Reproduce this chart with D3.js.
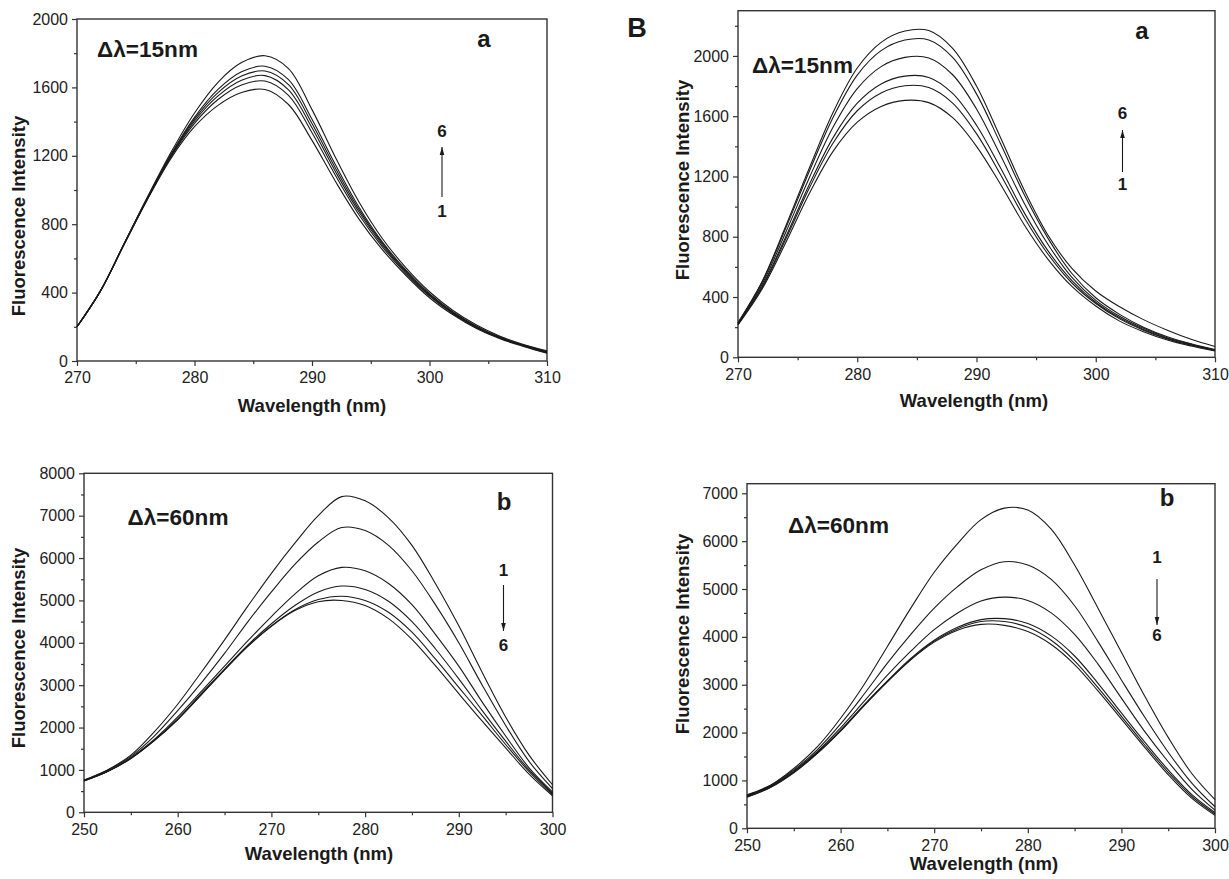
<!DOCTYPE html>
<html>
<head>
<meta charset="utf-8">
<script src="https://cdn.jsdelivr.net/npm/d3@7"></script>
<style>
  body { margin: 0; background: #fff; }
  svg { display: block; font-family: "Liberation Sans", Arial, sans-serif; }
  .tick text { font-size: 16px; fill: #222; }
  .tick line { stroke: #333; stroke-width: 1.2; }
  .domain { display: none; }
  .spectrum { fill: none; stroke: #1a1a1a; stroke-width: 1.1; }
  .title { font-weight: bold; font-size: 18.5px; fill: #1a1a1a; }
  .note { font-weight: bold; fill: #1a1a1a; }
</style>
</head>
<body>
<svg id="fig" width="1229" height="879"></svg>
<script>
// wavelengths (nm)
var wlTop = [270, 272, 274, 276, 278, 280, 282, 284, 286, 288, 290,
             292, 294, 296, 298, 300, 302, 304, 306, 308, 310];
var wlBottom = [250, 252.5, 255, 257.5, 260, 262.5, 265, 267.5, 270, 272.5, 275,
                277.5, 280, 282.5, 285, 287.5, 290, 292.5, 295, 297.5, 300];

// panel A-a, delta lambda = 15 nm, curves 1..6
var spectraAa = [
  [200, 410, 680, 945, 1185, 1370, 1495, 1570, 1588, 1500, 1290, 1050, 830, 650, 500, 370, 270, 190, 130, 85, 45],
  [200, 410, 681, 949, 1194, 1390, 1529, 1614, 1637, 1553, 1335, 1085, 855, 666, 511, 379, 276, 195, 134, 88, 49],
  [200, 410, 682, 951, 1199, 1403, 1550, 1642, 1669, 1586, 1364, 1107, 871, 677, 518, 384, 280, 198, 136, 90, 51],
  [200, 410, 683, 953, 1204, 1414, 1569, 1666, 1696, 1616, 1389, 1127, 885, 686, 525, 389, 284, 201, 138, 92, 53],
  [200, 410, 684, 955, 1209, 1425, 1588, 1691, 1724, 1645, 1414, 1147, 899, 695, 531, 394, 287, 204, 140, 93, 55],
  [200, 410, 686, 960, 1220, 1450, 1630, 1745, 1785, 1710, 1470, 1190, 930, 715, 545, 405, 295, 210, 145, 97, 60]
];

// panel B-a, delta lambda = 15 nm
var spectraBa = [
  [215, 450, 760, 1090, 1370, 1560, 1665, 1705, 1690, 1590, 1400, 1150, 880, 650, 470, 340, 240, 170, 115, 75, 42],
  [218, 460, 783, 1126, 1425, 1636, 1754, 1802, 1790, 1687, 1484, 1215, 928, 684, 493, 357, 255, 180, 122, 80, 45],
  [220, 468, 798, 1150, 1461, 1686, 1814, 1866, 1857, 1751, 1540, 1259, 960, 706, 509, 365, 262, 185, 125, 82, 46],
  [224, 481, 828, 1195, 1531, 1783, 1929, 1990, 1986, 1875, 1648, 1342, 1023, 749, 530, 378, 272, 192, 130, 86, 48],
  [228, 494, 856, 1238, 1596, 1873, 2035, 2105, 2106, 1990, 1748, 1420, 1080, 789, 556, 395, 285, 200, 137, 90, 51],
  [230, 500, 870, 1260, 1630, 1920, 2090, 2165, 2168, 2050, 1800, 1460, 1110, 810, 590, 440, 335, 250, 180, 120, 72]
];

// panel A-b, delta lambda = 60 nm
var spectraAb = [
  [760, 1000, 1350, 1900, 2550, 3300, 4070, 4870, 5640, 6350, 7000, 7450, 7350, 6950, 6300, 5400, 4400, 3300, 2250, 1350, 650],
  [755, 990, 1320, 1800, 2400, 3050, 3750, 4500, 5200, 5850, 6380, 6720, 6650, 6300, 5700, 4900, 4000, 3000, 2050, 1200, 560],
  [750, 970, 1290, 1720, 2250, 2850, 3450, 4050, 4620, 5150, 5580, 5780, 5700, 5400, 4900, 4200, 3450, 2600, 1800, 1050, 480],
  [745, 965, 1280, 1700, 2200, 2800, 3380, 3950, 4450, 4880, 5200, 5340, 5260, 4980, 4500, 3860, 3150, 2400, 1680, 1000, 450],
  [740, 960, 1270, 1690, 2190, 2770, 3360, 3920, 4400, 4780, 5020, 5100, 5000, 4720, 4250, 3620, 2950, 2280, 1600, 960, 420],
  [740, 960, 1270, 1690, 2190, 2770, 3360, 3920, 4390, 4760, 4970, 5000, 4880, 4570, 4080, 3460, 2800, 2150, 1520, 900, 390]
];

// panel B-b, delta lambda = 60 nm
var spectraBb = [
  [700, 900, 1250, 1700, 2300, 3000, 3800, 4600, 5350, 5950, 6450, 6690, 6650, 6250, 5500, 4600, 3680, 2760, 1900, 1150, 600],
  [690, 890, 1220, 1640, 2180, 2800, 3450, 4050, 4600, 5050, 5400, 5570, 5500, 5200, 4650, 3900, 3100, 2320, 1590, 950, 450],
  [680, 880, 1200, 1600, 2100, 2650, 3200, 3700, 4150, 4500, 4750, 4830, 4760, 4500, 4050, 3430, 2720, 2020, 1390, 820, 380],
  [670, 870, 1180, 1580, 2050, 2580, 3080, 3550, 3930, 4200, 4360, 4380, 4280, 4020, 3600, 3030, 2410, 1800, 1220, 710, 330],
  [660, 860, 1170, 1570, 2040, 2570, 3070, 3530, 3910, 4170, 4320, 4320, 4200, 3930, 3500, 2940, 2340, 1740, 1170, 670, 300],
  [650, 850, 1160, 1560, 2030, 2560, 3060, 3520, 3890, 4140, 4260, 4240, 4110, 3840, 3420, 2870, 2280, 1690, 1120, 630, 270]
];

var xTicksTop = [270, 280, 290, 300, 310];
var xTicksBottom = [250, 260, 270, 280, 290, 300];
var yTicks2000 = [0, 400, 800, 1200, 1600, 2000];
var yTicks8000 = [0, 1000, 2000, 3000, 4000, 5000, 6000, 7000, 8000];
var yTicks7000 = [0, 1000, 2000, 3000, 4000, 5000, 6000, 7000];

var svg = d3.select("#fig");

svg.append("defs").append("marker")
    .attr("id", "head")
    .attr("viewBox", "0 -3 8 6")
    .attr("refX", 8)
    .attr("markerWidth", 8)
    .attr("markerHeight", 6)
    .attr("markerUnits", "userSpaceOnUse")
    .attr("orient", "auto")
  .append("path")
    .attr("d", "M0,-2.3L8,0L0,2.3Z")
    .attr("fill", "#1a1a1a");

var panels = [
  { wl: wlTop, spectra: spectraAa, xDomain: [270, 310], yDomain: [0, 2000],
    xTicks: xTicksTop, yTicks: yTicks2000, xStep: 5, yStep: 200,
    left: 77, right: 547, top: 19, bottom: 361,
    yTitle: [18, 216], xTitle: [312, 405], delta: "Δλ=15nm", deltaPos: [97, 49],
    letter: "a", letterPos: [484, 38], arrow: { x: 442, from: 197, to: 147, top: "6", topY: 131, bottom: "1", bottomY: 211 } },
  { wl: wlTop, spectra: spectraBa, xDomain: [270, 310], yDomain: [0, 2300],
    xTicks: xTicksTop, yTicks: yTicks2000, xStep: 5, yStep: 200,
    left: 738, right: 1215, top: 10.7, bottom: 357.3,
    yTitle: [682, 180], xTitle: [974, 400], delta: "Δλ=15nm", deltaPos: [752, 65],
    letter: "a", letterPos: [1142, 30], arrow: { x: 1122.5, from: 172, to: 130, top: "6", topY: 113, bottom: "1", bottomY: 184 } },
  { wl: wlBottom, spectra: spectraAb, xDomain: [250, 300], yDomain: [0, 8000],
    xTicks: xTicksBottom, yTicks: yTicks8000, xStep: 5, yStep: 500,
    left: 84, right: 552.5, top: 473.3, bottom: 812.3,
    yTitle: [18, 648], xTitle: [319, 853], delta: "Δλ=60nm", deltaPos: [127.5, 517],
    letter: "b", letterPos: [504, 501], arrow: { x: 503.5, from: 585, to: 631, top: "1", topY: 570, bottom: "6", bottomY: 645 } },
  { wl: wlBottom, spectra: spectraBb, xDomain: [250, 300], yDomain: [0, 7200],
    xTicks: xTicksBottom, yTicks: yTicks7000, xStep: 5, yStep: 500,
    left: 747, right: 1215, top: 483.7, bottom: 828.3,
    yTitle: [682, 634], xTitle: [984, 863], delta: "Δλ=60nm", deltaPos: [788, 525],
    letter: "b", letterPos: [1167, 497], arrow: { x: 1157, from: 579, to: 625, top: "1", topY: 557, bottom: "6", bottomY: 635 } }
];

var drawPanel = function(p) {
    var g = svg.append("g");
    var x = d3.scaleLinear().domain(p.xDomain).range([p.left, p.right]);
    var y = d3.scaleLinear().domain(p.yDomain).range([p.bottom, p.top]);

    // minor ticks between the labelled ones
    var minorX = d3.range(p.xDomain[0], p.xDomain[1] + 0.01, p.xStep)
        .filter(function (v) { return p.xTicks.indexOf(v) < 0; });
    var minorY = d3.range(0, p.yDomain[1] + 0.01, p.yStep)
        .filter(function (v) { return p.yTicks.indexOf(v) < 0; });

    g.append("g")
        .attr("transform", "translate(0," + p.bottom + ")")
        .call(d3.axisBottom(x).tickValues(minorX).tickSize(3).tickFormat(""));
    g.append("g")
        .attr("transform", "translate(" + p.left + ",0)")
        .call(d3.axisLeft(y).tickValues(minorY).tickSize(3).tickFormat(""));

    g.append("g")
        .attr("transform", "translate(0," + p.bottom + ")")
        .call(d3.axisBottom(x).tickValues(p.xTicks).tickSize(5).tickPadding(6).tickFormat(d3.format("d")));
    g.append("g")
        .attr("transform", "translate(" + p.left + ",0)")
        .call(d3.axisLeft(y).tickValues(p.yTicks).tickSize(5).tickPadding(4).tickFormat(d3.format("d")));

    // frame
    g.append("rect")
        .attr("x", p.left).attr("y", p.top)
        .attr("width", p.right - p.left).attr("height", p.bottom - p.top)
        .attr("fill", "none").attr("stroke", "#333").attr("stroke-width", 1.4);

    var line = d3.line()
        .x(function (d, i) { return x(p.wl[i]); })
        .y(function (d) { return y(d); })
        .curve(d3.curveCatmullRom.alpha(0.5));

    g.selectAll(".spectrum")
        .data(p.spectra)
        .enter().append("path")
        .attr("class", "spectrum")
        .attr("d", line);

    // axis titles
    g.append("text")
        .attr("class", "title")
        .attr("text-anchor", "middle")
        .attr("dominant-baseline", "central")
        .attr("transform", "translate(" + p.yTitle[0] + "," + p.yTitle[1] + ") rotate(-90)")
        .text("Fluorescence Intensity");
    g.append("text")
        .attr("class", "title")
        .attr("text-anchor", "middle")
        .attr("dominant-baseline", "central")
        .attr("x", p.xTitle[0]).attr("y", p.xTitle[1])
        .text("Wavelength (nm)");

    g.append("text")
        .attr("class", "note")
        .attr("font-size", 22)
        .attr("dominant-baseline", "central")
        .attr("x", p.deltaPos[0]).attr("y", p.deltaPos[1])
        .attr("textLength", 101)
        .attr("lengthAdjust", "spacingAndGlyphs")
        .text(p.delta);

    g.append("text")
        .attr("class", "note")
        .attr("font-size", 24)
        .attr("text-anchor", "middle")
        .attr("dominant-baseline", "central")
        .attr("x", p.letterPos[0]).attr("y", p.letterPos[1])
        .text(p.letter);

    // 1 -> 6 arrow
    var a = p.arrow;
    g.append("line")
        .attr("x1", a.x).attr("x2", a.x)
        .attr("y1", a.from).attr("y2", a.to)
        .attr("stroke", "#1a1a1a").attr("stroke-width", 1.1)
        .attr("marker-end", "url(#head)");
    g.append("text")
        .attr("class", "note").attr("font-size", 17)
        .attr("text-anchor", "middle").attr("dominant-baseline", "central")
        .attr("x", a.x).attr("y", a.topY)
        .text(a.top);
    g.append("text")
        .attr("class", "note").attr("font-size", 17)
        .attr("text-anchor", "middle").attr("dominant-baseline", "central")
        .attr("x", a.x).attr("y", a.bottomY)
        .text(a.bottom);
};

panels.forEach(drawPanel);

svg.append("text")
    .attr("class", "note")
    .attr("font-size", 27)
    .attr("text-anchor", "middle")
    .attr("dominant-baseline", "central")
    .attr("x", 637).attr("y", 28)
    .text("B");
</script>
</body>
</html>
